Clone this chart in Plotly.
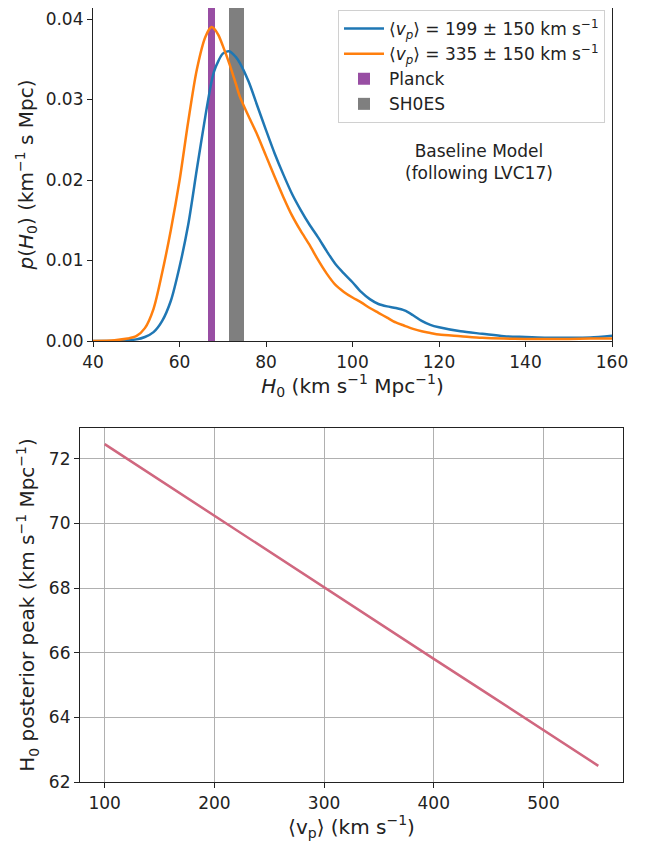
"""H0 posterior for two peculiar-velocity priors, and the peak vs <v_p>."""

import plotly.graph_objects as go
from plotly.subplots import make_subplots

# top panel: posterior densities p(H0)
h0_grid = [40, 45, 48, 50, 52, 54, 56, 58, 60, 62, 64, 66, 67.4, 68, 69, 70,
           71.5, 73, 74, 76, 78, 80, 82, 84, 86, 88, 90, 92, 94, 96, 98, 100,
           102, 104, 106, 108, 110, 112, 114, 116, 118, 120, 125, 130, 135,
           140, 145, 150, 155, 160]
p_vp199 = [0.0, 0.0, 0.0001, 0.0002, 0.0005, 0.0011, 0.0025, 0.0050, 0.0092,
           0.0144, 0.0213, 0.0280, 0.0322, 0.0335, 0.0348, 0.0357, 0.0360,
           0.0353, 0.0345, 0.0322, 0.0292, 0.0262, 0.0233, 0.0207, 0.0183,
           0.0163, 0.0145, 0.0129, 0.0112, 0.0096, 0.0084, 0.0073, 0.0061,
           0.0052, 0.0046, 0.0043, 0.0041, 0.0038, 0.0032, 0.0025, 0.0020,
           0.0017, 0.0012, 0.0009, 0.0006, 0.0005, 0.0004, 0.0004, 0.00045,
           0.00066]
p_vp335 = [0.0, 0.0001, 0.0003, 0.0006, 0.0016, 0.0040, 0.0085, 0.0138, 0.0199,
           0.0272, 0.0337, 0.0378, 0.0390, 0.0388, 0.0380, 0.0367, 0.0345,
           0.0320, 0.0303, 0.0279, 0.0256, 0.0230, 0.0204, 0.0179, 0.0156,
           0.0137, 0.0120, 0.0101, 0.0084, 0.0070, 0.0061, 0.0054, 0.0048,
           0.0041, 0.0035, 0.0029, 0.0023, 0.0019, 0.0015, 0.0012, 0.0010,
           0.0008, 0.0006, 0.0004, 0.0003, 0.00025, 0.00025, 0.00025, 0.0003,
           0.0003]

planck_h0, planck_err = 67.4, 0.8
shoes_h0, shoes_err = 73.24, 1.74

# bottom panel: posterior peak vs mean peculiar velocity
vp_mean = [100, 150, 200, 250, 300, 350, 400, 450, 500, 550]
h0_peak = [72.45, 71.34, 70.24, 69.13, 68.02, 66.92, 65.81, 64.71, 63.60, 62.50]

FONT = "DejaVu Sans"
FS = 17
W, H = 655, 847
OFF = 8  # page body margin


def px_x(p):
    return (p - OFF) / W


def px_y(p):
    return min(1, 1 - (p - OFF) / H)


fig = make_subplots(rows=2, cols=1)

fig.add_trace(go.Scatter(
    x=h0_grid, y=p_vp199, mode="lines",
    line=dict(color="#1f77b4", width=2.5, shape="spline", smoothing=0.8),
    name="⟨<i>v</i><sub><i>p</i></sub>⟩ = 199 ± 150 km s<sup>−1</sup>",
), row=1, col=1)
fig.add_trace(go.Scatter(
    x=h0_grid, y=p_vp335, mode="lines",
    line=dict(color="#ff7f0e", width=2.5, shape="spline", smoothing=0.8),
    name="⟨<i>v</i><sub><i>p</i></sub>⟩ = 335 ± 150 km s<sup>−1</sup>",
), row=1, col=1)
fig.add_trace(go.Bar(
    x=[planck_h0], y=[1], width=[2 * planck_err], base=0,
    marker=dict(color="#984ea3", line_width=0), name="Planck",
), row=1, col=1)
fig.add_trace(go.Bar(
    x=[shoes_h0], y=[1], width=[2 * shoes_err], base=0,
    marker=dict(color="#7f7f7f", line_width=0), name="SH0ES",
), row=1, col=1)

fig.add_trace(go.Scatter(
    x=vp_mean, y=h0_peak, mode="lines", line=dict(color="#d0677f", width=2.5),
    showlegend=False,
), row=2, col=1)

axis_common = dict(
    showline=True, mirror=True, linecolor="#222", linewidth=1.2,
    ticks="outside", ticklen=5, tickcolor="#222", zeroline=False,
    tickfont=dict(size=FS, color="#222"), automargin=False,
)

fig.update_layout(
    width=W, height=H,
    margin=dict(l=0, r=0, t=0, b=0),
    paper_bgcolor="white", plot_bgcolor="white",
    font=dict(family=FONT, size=FS, color="#222"),
    bargap=0,
    legend=dict(
        x=px_x(605), y=px_y(10), xanchor="right", yanchor="top",
        bgcolor="white", bordercolor="#d0d0d0", borderwidth=1,
        font=dict(size=FS), traceorder="normal", itemwidth=40,
    ),
    xaxis=dict(
        domain=[px_x(93), px_x(612)], range=[40, 160], dtick=20, showgrid=False,
        anchor="y",
        title=dict(text="<i>H</i><sub>0</sub> (km s<sup>−1</sup> Mpc<sup>−1</sup>)", standoff=4),
        **axis_common,
    ),
    yaxis=dict(
        domain=[px_y(341), px_y(8)], range=[0, 0.04137], dtick=0.01,
        tickformat=".2f", showgrid=False, anchor="x",
        title=dict(text="<i>p</i>(<i>H</i><sub>0</sub>) (km<sup>−1</sup> s Mpc)", standoff=6),
        **axis_common,
    ),
    xaxis2=dict(
        domain=[px_x(80), px_x(623)], range=[77.5, 572.5], dtick=100,
        showgrid=True, gridcolor="#b0b0b0", gridwidth=1, anchor="y2",
        title=dict(text="⟨v<sub>p</sub>⟩ (km s<sup>−1</sup>)", standoff=4),
        **axis_common,
    ),
    yaxis2=dict(
        domain=[px_y(782), px_y(428)], range=[62.0, 72.95], dtick=2,
        showgrid=True, gridcolor="#b0b0b0", gridwidth=1, anchor="x2",
        title=dict(text="H<sub>0</sub> posterior peak (km s<sup>−1</sup> Mpc<sup>−1</sup>)", standoff=8),
        **axis_common,
    ),
    annotations=[dict(
        text="Baseline Model<br>(following LVC17)",
        xref="paper", yref="paper", x=px_x(479), y=px_y(162),
        xanchor="center", yanchor="middle", showarrow=False,
        font=dict(size=FS, color="#222"),
    )],
)

fig.write_html("out.html")
